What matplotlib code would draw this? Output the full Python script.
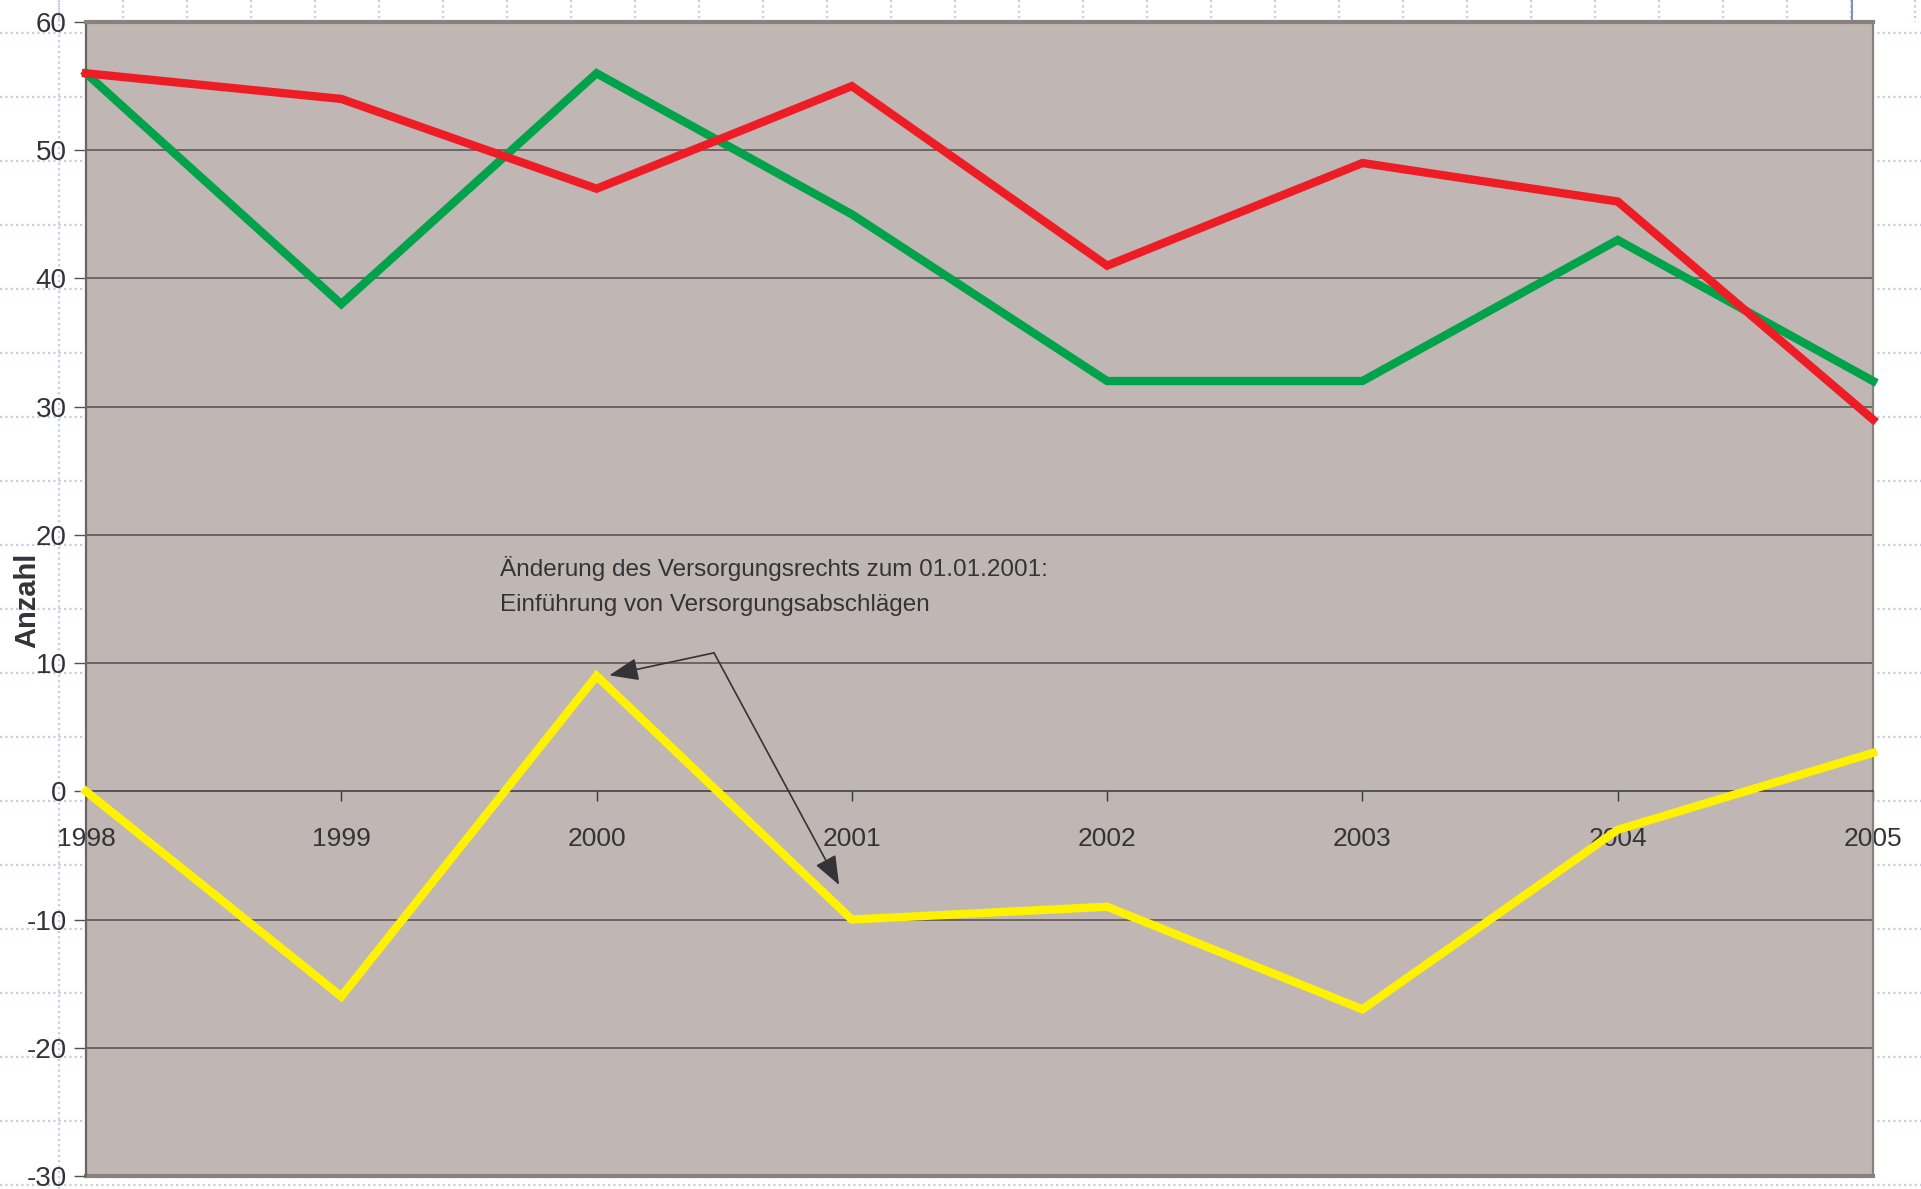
import numpy as np
import matplotlib.pyplot as plt
from matplotlib.lines import Line2D

plt.rcParams['font.family'] = ['Liberation Sans Narrow', 'Liberation Sans', 'DejaVu Sans']
plt.rcParams['axes.unicode_minus'] = False

years = [1998, 1999, 2000, 2001, 2002, 2003, 2004, 2005]
red_vals = [56, 54, 47, 55, 41, 49, 46, 29]
green_vals = [56, 38, 56, 45, 32, 32, 43, 32]
yellow_vals = [0, -16, 9, -10, -9, -17, -3, 3]
y_ticks = [-30, -20, -10, 0, 10, 20, 30, 40, 50, 60]

note = "Änderung des Versorgungsrechts zum 01.01.2001:\nEinführung von Versorgungsabschlägen"

W, H = 1921, 1189
fig = plt.figure(figsize=(W / 100, H / 100), dpi=100)

# faint page grid behind the chart
dot = dict(color='#c9cbe9', lw=1.6, ls=(0, (1, 1.4)), zorder=-5)
for k in range(19):
    yy = 1 - (33 + 64 * k) / H
    fig.add_artist(Line2D([0, 1], [yy, yy], transform=fig.transFigure, **dot))
for k in range(30):
    xx = (59 + 64 * k) / W
    fig.add_artist(Line2D([xx, xx], [1, 1 - 22 / H], transform=fig.transFigure, **dot))
fig.add_artist(Line2D([59 / W, 59 / W], [0, 1], transform=fig.transFigure, **dot))
fig.add_artist(Line2D([1852 / W, 1852 / W], [1, 1 - 22 / H], transform=fig.transFigure,
                      color='#8090c8', lw=1.5, zorder=-4))

ax = fig.add_axes([86 / W, 1 - 1176 / H, (1873 - 86) / W, (1176 - 22) / H])
ax.set_facecolor('#c0b6b3')
ax.set_xlim(1998, 2005)
ax.set_ylim(-30, 60)

for v in y_ticks:
    if v not in (-30, 0, 60):
        ax.axhline(v, color='#555050', lw=1.1, zorder=1)

ax.spines['bottom'].set_position(('data', 0))
ax.spines['bottom'].set_color('#3a3636')
ax.spines['bottom'].set_linewidth(1.1)
ax.spines['left'].set_color('#6a6464')
ax.spines['left'].set_linewidth(1.6)
ax.spines['top'].set_color('#8a807e')
ax.spines['top'].set_linewidth(3)
ax.spines['right'].set_color('#8a807e')
ax.spines['right'].set_linewidth(1.6)
ax.axhline(-30, color='#8a807e', lw=3, clip_on=False, zorder=1)

ax.set_xticks(years)
ax.set_xticklabels([str(y) for y in years])
ax.tick_params(axis='x', direction='out', length=7, width=1, color='#3a3636',
               labelsize=19, labelcolor='#333338', pad=19)
ax.set_yticks(y_ticks)
ax.tick_params(axis='y', direction='out', length=9, width=1, color='#555050',
               labelsize=20, labelcolor='#333338', pad=5)

ax.plot(years, red_vals, color='#ee1c25', lw=6, zorder=4, clip_on=False,
        solid_joinstyle='miter')
ax.plot(years, green_vals, color='#00a24a', lw=6, zorder=3, clip_on=False,
        solid_joinstyle='miter')
ax.plot(years, yellow_vals, color='#fff200', lw=6, zorder=5, clip_on=False,
        solid_joinstyle='miter')

ax.text(1999.62, 16.0, note, fontsize=17.5, color='#333338', va='center', ha='left',
        linespacing=1.75)
arrow = dict(arrowstyle='-|>,head_length=0.9,head_width=0.35', color='#333338',
             lw=1.2, shrinkA=0, shrinkB=0, mutation_scale=20)
ax.annotate('', xy=(2000.05, 9.05), xytext=(2000.46, 10.8), arrowprops=arrow, zorder=6)
ax.annotate('', xy=(2000.95, -7.3), xytext=(2000.46, 10.8), arrowprops=arrow, zorder=6)

fig.text(27 / W, 1 - 600 / H, 'Anzahl', rotation=90, fontsize=21, fontweight='bold',
         color='#333338', ha='center', va='center')

fig.savefig('out.png', dpi=100, facecolor='white')
